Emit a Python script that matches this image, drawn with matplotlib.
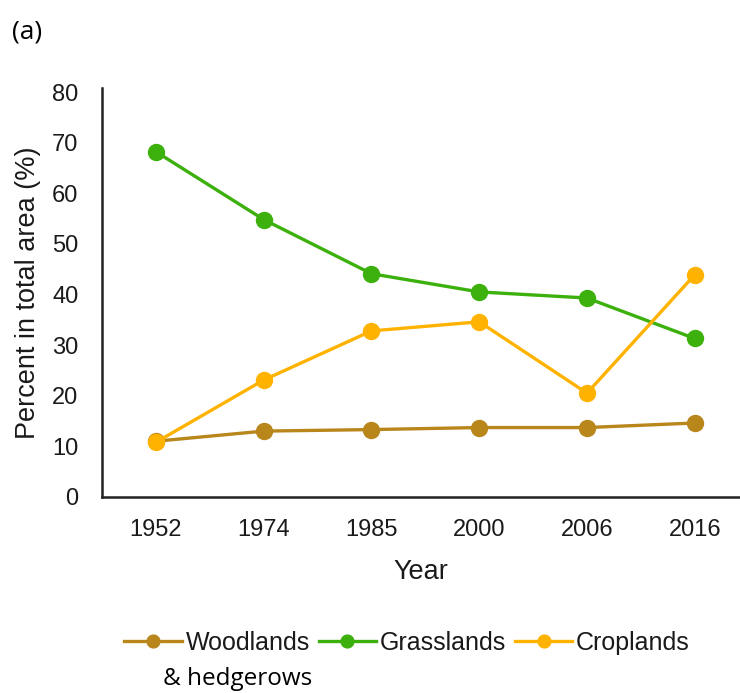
import matplotlib
matplotlib.use("Agg")
import matplotlib.pyplot as plt
import numpy as np

# values (% of total area)
years = ["1952", "1974", "1985", "2000", "2006", "2016"]
woodlands = [11.0, 13.0, 13.3, 13.7, 13.7, 14.6]
grasslands = [68.2, 54.8, 44.1, 40.5, 39.3, 31.3]
croplands = [10.8, 23.1, 32.8, 34.6, 20.5, 43.9]

series_names = ["Woodlands", "Grasslands", "Croplands"]
colors = ["#B8861B", "#3CB00C", "#FFB300"]

plt.rcParams['font.family'] = ['Liberation Sans', 'DejaVu Sans']

fig = plt.figure(figsize=(7.4, 6.93), dpi=100)
ax = fig.add_axes([0.138, 0.283, 0.862, 0.590])

x = np.arange(len(years))
for vals, name, col in zip([woodlands, grasslands, croplands], series_names, colors):
    ax.plot(x, vals, '-o', color=col, lw=2.4, markersize=11.5, label=name)

ax.set_xlim(-0.50, 5.42)
ax.set_ylim(0, 80.8)
ax.set_xticks(x)
ax.set_xticklabels(years)
ax.set_yticks(np.arange(0, 81, 10))
ax.tick_params(length=0, labelsize=17, colors='#1a1a1a')
ax.tick_params(axis='x', pad=16)
ax.tick_params(axis='y', pad=17)
for s in ['top', 'right']:
    ax.spines[s].set_visible(False)
for s in ['left', 'bottom']:
    ax.spines[s].set_linewidth(1.8)
    ax.spines[s].set_color('#222222')

ax.set_xlabel("Year", fontsize=19.5, color='#1a1a1a', labelpad=13)
ax.set_ylabel("Percent in total area (%)", fontsize=19.5, color='#1a1a1a', labelpad=8)

leg = fig.legend(loc='center', bbox_to_anchor=(0.55, 0.072), ncol=3, frameon=False,
                 fontsize=18, handlelength=2.3, handletextpad=0.15, columnspacing=0.35,
                 markerscale=0.8)
for t in leg.get_texts():
    t.set_color('#1a1a1a')

fig.text(0.22, 0.012, "& hedgerows", fontsize=17.5, family=['Open Sans', 'DejaVu Sans'])
fig.text(0.016, 0.945, "(a)", fontsize=19, family=['Open Sans', 'DejaVu Sans'])

fig.savefig("out.png", dpi=100)
